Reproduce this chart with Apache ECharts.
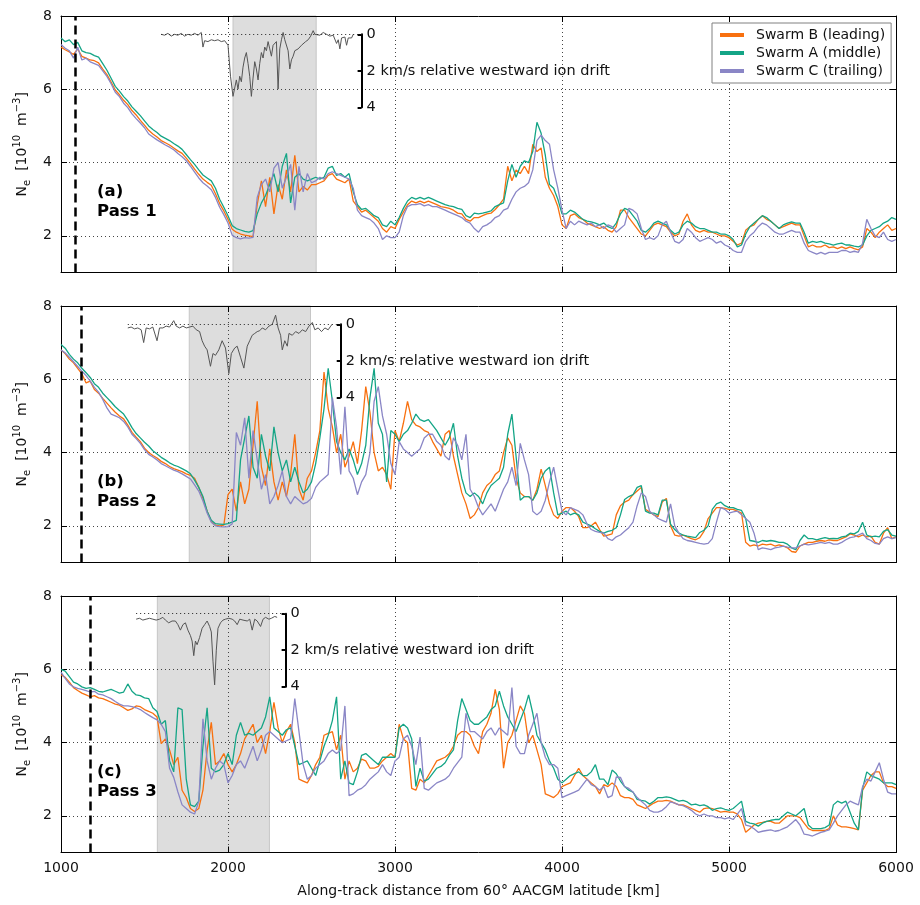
<!DOCTYPE html>
<html><head><meta charset="utf-8">
<script src="https://cdn.jsdelivr.net/npm/echarts@6/dist/echarts.min.js"></script>
<style>html,body{margin:0;padding:0;background:#fff}#chart{width:920px;height:905px}</style>
</head><body><div id="chart"></div><script>
// ---------- data ----------
const distanceKm = [
1000,1025,1050,1075,1100,1125,1150,1175,1200,1225,1250,1275,1300,1325,1350,1375,1400,1425,1450,1475,
1500,1525,1550,1575,1600,1625,1650,1675,1700,1725,1750,1775,1800,1825,1850,1875,1900,1925,1950,1975,
2000,2025,2050,2075,2100,2125,2150,2175,2200,2225,2250,2275,2300,2325,2350,2375,2400,2425,2450,2475,
2500,2525,2550,2575,2600,2625,2650,2675,2700,2725,2750,2775,2800,2825,2850,2875,2900,2925,2950,2975,
3000,3025,3050,3075,3100,3125,3150,3175,3200,3225,3250,3275,3300,3325,3350,3375,3400,3425,3450,3475,
3500,3525,3550,3575,3600,3625,3650,3675,3700,3725,3750,3775,3800,3825,3850,3875,3900,3925,3950,3975,
4000,4025,4050,4075,4100,4125,4150,4175,4200,4225,4250,4275,4300,4325,4350,4375,4400,4425,4450,4475,
4500,4525,4550,4575,4600,4625,4650,4675,4700,4725,4750,4775,4800,4825,4850,4875,4900,4925,4950,4975,
5000,5025,5050,5075,5100,5125,5150,5175,5200,5225,5250,5275,5300,5325,5350,5375,5400,5425,5450,5475,
5500,5525,5550,5575,5600,5625,5650,5675,5700,5725,5750,5775,5800,5825,5850,5875,5900,5925,5950,5975,
6000];

const pass1B = [
7.15,7.08,7.02,6.95,7.10,6.90,6.85,6.80,6.78,6.72, 6.55,6.40,6.20,5.98,5.85,5.70,5.58,5.42,5.30,5.15,
5.02,4.88,4.78,4.70,4.60,4.54,4.48,4.40,4.32,4.25, 4.12,3.98,3.82,3.68,3.55,3.46,3.38,3.15,2.88,2.68,
2.45,2.18,2.10,2.05,2.02,2.00,1.98,2.85,3.50,2.80, 3.60,2.60,3.40,3.00,3.80,3.20,4.20,3.20,3.35,3.25,
3.40,3.40,3.45,3.50,3.65,3.70,3.55,3.50,3.45,3.55, 2.95,2.80,2.65,2.70,2.60,2.50,2.40,2.20,2.10,2.25,
2.20,2.45,2.65,2.85,2.95,2.90,2.95,2.90,2.95,2.90, 2.85,2.80,2.78,2.75,2.70,2.62,2.60,2.45,2.40,2.50,
2.50,2.55,2.60,2.62,2.72,2.85,3.00,3.90,3.50,3.80, 3.70,3.90,3.70,4.50,4.30,4.40,3.60,3.30,3.10,2.80,
2.30,2.20,2.55,2.60,2.50,2.45,2.35,2.30,2.25,2.20, 2.25,2.15,2.10,2.25,2.70,2.70,2.50,2.35,2.20,2.05,
2.00,2.15,2.30,2.35,2.30,2.25,2.10,2.00,2.05,2.40, 2.60,2.30,2.15,2.10,2.15,2.10,2.10,2.05,2.00,2.00,
1.95,1.85,1.75,1.80,2.15,2.25,2.30,2.45,2.55,2.45, 2.40,2.30,2.20,2.25,2.30,2.35,2.30,2.30,2.00,1.70,
1.75,1.70,1.70,1.75,1.68,1.70,1.65,1.70,1.65,1.70, 1.65,1.62,1.70,2.20,2.10,1.95,2.10,2.20,2.30,2.15,
2.20];
const pass1A = [
7.40,7.30,7.35,7.22,7.28,7.05,7.00,6.98,6.92,6.88, 6.70,6.52,6.30,6.08,5.95,5.80,5.68,5.52,5.40,5.28,
5.14,5.00,4.90,4.82,4.72,4.66,4.60,4.52,4.45,4.36, 4.22,4.08,3.95,3.80,3.66,3.58,3.50,3.30,3.00,2.78,
2.55,2.28,2.20,2.16,2.12,2.10,2.14,2.60,2.90,3.10, 3.40,3.70,3.20,3.90,4.25,2.90,3.60,3.70,3.55,3.50,
3.55,3.60,3.55,3.60,3.85,3.90,3.65,3.70,3.60,3.70, 3.20,2.85,2.72,2.75,2.65,2.55,2.50,2.30,2.25,2.40,
2.30,2.50,2.75,2.95,3.05,3.00,3.05,3.00,3.05,3.00, 2.95,2.90,2.85,2.82,2.80,2.75,2.72,2.55,2.50,2.62,
2.60,2.62,2.65,2.68,2.80,2.85,2.90,3.50,3.95,3.60, 3.90,4.05,4.00,4.30,5.10,4.80,4.20,3.40,3.30,3.00,
2.60,2.60,2.70,2.65,2.55,2.45,2.40,2.38,2.35,2.30, 2.35,2.25,2.20,2.35,2.60,2.75,2.70,2.55,2.40,2.15,
2.10,2.20,2.35,2.40,2.35,2.30,2.15,2.05,2.10,2.30, 2.40,2.35,2.25,2.20,2.20,2.15,2.10,2.10,2.05,2.05,
2.00,1.90,1.70,1.75,2.05,2.25,2.35,2.45,2.55,2.50, 2.40,2.30,2.20,2.30,2.35,2.38,2.35,2.35,2.10,1.80,
1.85,1.82,1.85,1.80,1.78,1.75,1.78,1.80,1.75,1.75, 1.72,1.70,1.75,2.00,2.15,2.20,2.25,2.35,2.40,2.50,
2.45];
const pass1C = [
7.22,7.12,7.05,6.85,7.15,6.80,6.85,6.75,6.70,6.65, 6.50,6.35,6.15,5.92,5.80,5.62,5.50,5.33,5.20,5.08,
4.95,4.78,4.70,4.62,4.55,4.48,4.42,4.35,4.25,4.16, 4.05,3.90,3.74,3.58,3.45,3.36,3.26,3.05,2.78,2.58,
2.35,2.02,1.95,1.92,1.95,1.94,1.96,3.05,3.40,3.55, 3.20,3.85,4.00,3.30,3.60,3.95,2.70,3.90,3.20,3.70,
3.45,3.50,3.60,3.55,3.70,3.75,3.70,3.65,3.60,3.55, 3.30,2.70,2.55,2.50,2.45,2.35,2.20,1.90,2.00,1.95,
1.95,2.10,2.55,2.80,2.85,2.85,2.88,2.82,2.85,2.80, 2.80,2.75,2.70,2.65,2.60,2.55,2.50,2.40,2.35,2.20,
2.10,2.25,2.30,2.38,2.50,2.55,2.70,2.75,3.00,3.20, 3.30,3.35,3.45,3.80,4.60,4.75,4.60,4.50,3.80,3.30,
2.70,2.20,2.40,2.30,2.40,2.35,2.30,2.35,2.25,2.30, 2.20,2.30,2.25,2.10,2.20,2.30,2.75,2.70,2.60,2.20,
1.90,1.95,1.90,2.00,2.30,2.40,2.10,1.85,1.80,1.90, 2.20,2.10,1.95,1.85,1.90,1.95,1.90,1.80,1.85,1.75,
1.70,1.60,1.55,1.55,1.85,2.00,2.10,2.25,2.35,2.30, 2.20,2.10,2.05,2.05,2.10,2.15,2.10,2.10,1.80,1.60,
1.55,1.50,1.55,1.50,1.55,1.55,1.55,1.60,1.60,1.55, 1.58,1.55,1.80,2.45,2.20,2.00,1.95,2.10,1.90,1.85,
1.90];

const pass2B = [
6.80,6.70,6.55,6.45,6.30,6.15,5.90,5.95,5.72,5.62, 5.48,5.35,5.22,5.10,5.00,4.92,4.75,4.55,4.42,4.30,
4.12,4.00,3.92,3.85,3.76,3.70,3.62,3.56,3.52,3.48, 3.42,3.38,3.30,3.05,2.75,2.40,2.12,2.02,2.00,2.02,
2.85,3.00,2.40,3.20,2.60,3.00,4.20,5.40,3.60,3.10, 4.10,3.20,2.70,3.20,2.80,3.40,4.50,3.00,2.70,3.30,
3.50,4.00,4.60,6.20,5.20,4.70,4.00,4.50,3.60,3.90, 4.30,3.70,4.60,5.80,5.10,4.00,3.50,3.60,3.40,3.00,
4.60,4.30,4.80,5.40,4.90,4.75,4.70,4.60,4.55,4.30, 4.10,3.90,4.50,4.60,3.90,3.40,2.90,2.60,2.20,2.30,
2.50,2.90,3.10,3.20,3.40,3.50,4.00,4.40,4.20,3.30, 2.90,2.80,2.80,2.70,3.00,3.55,3.10,2.60,2.30,2.20,
2.40,2.50,2.50,2.40,2.25,1.95,1.95,2.00,2.10,1.90, 1.72,1.75,1.78,2.30,2.55,2.65,2.70,2.85,2.95,3.05,
2.45,2.38,2.30,2.25,2.65,2.75,2.00,1.75,1.72,1.75, 1.70,1.65,1.62,1.68,1.85,2.20,2.35,2.50,2.50,2.48,
2.45,2.45,2.40,2.35,1.55,1.45,1.48,1.45,1.50,1.48, 1.50,1.45,1.48,1.45,1.40,1.30,1.28,1.45,1.50,1.55,
1.55,1.58,1.60,1.58,1.62,1.60,1.60,1.65,1.70,1.78, 1.75,1.70,1.75,1.70,1.72,1.55,1.50,1.80,1.95,1.65,
1.70];
const pass2A = [
6.95,6.85,6.68,6.55,6.45,6.30,6.18,6.05,5.88,5.78, 5.62,5.50,5.38,5.25,5.15,5.05,4.88,4.68,4.52,4.40,
4.28,4.18,4.05,3.96,3.87,3.80,3.72,3.66,3.62,3.56, 3.50,3.42,3.25,3.05,2.80,2.40,2.15,2.06,2.05,2.04,
2.06,2.10,2.15,3.80,4.40,5.00,3.60,3.30,4.50,3.90, 3.50,4.70,4.00,3.50,3.80,3.20,3.60,3.20,2.90,3.00,
3.20,3.70,4.40,5.20,6.30,5.40,4.30,4.00,3.80,4.10, 3.80,3.40,3.70,4.20,5.50,6.30,4.80,4.50,3.20,4.60,
4.50,4.30,4.50,4.60,4.80,5.05,4.90,4.85,4.90,4.75, 4.60,4.40,4.20,4.40,4.80,3.90,3.30,2.90,2.80,2.90,
2.80,2.60,2.90,3.10,3.20,3.30,3.60,4.50,5.05,3.90, 2.70,2.80,2.80,2.70,2.90,3.30,3.50,3.60,2.90,2.30,
2.35,2.40,2.30,2.35,2.30,2.10,2.05,2.00,1.92,1.85, 1.80,1.85,1.88,1.95,2.30,2.72,2.80,2.85,3.05,3.10,
2.40,2.35,2.35,2.30,2.70,2.70,2.05,1.90,1.80,1.75, 1.72,1.70,1.68,1.82,1.88,2.00,2.45,2.60,2.65,2.55,
2.50,2.50,2.45,2.42,2.20,1.60,1.58,1.55,1.60,1.58, 1.60,1.58,1.55,1.55,1.50,1.40,1.35,1.60,1.75,1.65,
1.65,1.62,1.65,1.68,1.65,1.66,1.65,1.70,1.72,1.80, 1.78,1.85,2.10,1.75,1.70,1.72,1.70,1.85,1.90,1.75,
1.72];
const pass2C = [
6.80,6.72,6.60,6.48,6.35,6.22,6.10,5.95,5.78,5.65, 5.45,5.22,5.05,5.00,4.95,4.85,4.70,4.50,4.38,4.25,
4.08,3.95,3.88,3.80,3.70,3.64,3.58,3.52,3.48,3.42, 3.35,3.28,3.12,2.95,2.68,2.35,2.10,2.00,1.98,1.97,
1.98,2.05,4.55,4.20,4.95,3.30,4.60,3.80,3.00,3.40, 2.60,2.80,3.10,3.50,2.80,2.60,2.80,2.70,2.60,2.65,
2.75,3.05,3.20,3.30,3.40,5.50,4.70,3.40,5.25,3.50, 3.30,2.85,3.20,3.40,4.00,5.40,5.80,5.00,4.50,3.70,
3.40,4.30,4.10,4.00,3.90,4.00,4.10,4.40,4.50,4.50, 4.30,4.20,3.90,3.80,4.40,4.20,3.80,4.50,3.00,2.80,
2.50,2.30,2.45,2.60,2.40,2.70,3.00,3.20,3.60,3.10, 4.25,3.80,3.40,2.40,2.30,2.40,2.70,3.20,3.60,3.00,
2.40,2.30,2.50,2.45,2.40,2.30,2.05,1.90,1.85,1.82, 1.80,1.65,1.60,1.70,1.75,1.85,1.95,2.10,2.55,2.90,
2.80,2.40,2.30,2.20,2.15,2.10,2.60,2.00,1.80,1.65, 1.60,1.58,1.55,1.52,1.50,1.52,1.65,2.10,2.50,2.45,
2.35,2.38,2.40,2.30,2.20,2.10,1.80,1.35,1.40,1.38, 1.35,1.40,1.42,1.45,1.42,1.40,1.40,1.45,1.50,1.48,
1.50,1.52,1.55,1.52,1.55,1.50,1.50,1.55,1.62,1.68, 1.70,1.75,1.80,1.65,1.60,1.52,1.50,1.65,1.70,1.65,
1.68];

const pass3B = [
5.85,5.78,5.65,5.50,5.42,5.35,5.30,5.25,5.28,5.22, 5.20,5.15,5.10,5.05,5.02,4.95,4.88,4.92,5.00,4.98,
4.90,4.85,4.80,4.70,3.97,4.10,3.80,3.40,3.60,2.70, 2.50,2.20,2.12,2.20,2.70,3.80,4.55,3.40,3.50,3.70,
3.40,3.20,3.40,3.70,4.10,4.30,4.50,4.00,4.20,3.70, 4.30,5.10,4.40,4.00,4.30,4.50,4.00,3.00,2.95,2.90,
3.10,3.40,3.60,4.20,4.25,4.30,3.80,4.20,3.00,3.50, 3.20,3.30,3.55,3.50,3.30,3.30,3.35,3.50,3.60,3.70,
3.60,4.50,4.10,4.00,2.75,2.70,3.00,2.90,3.10,3.30, 3.50,3.55,3.60,3.70,3.90,4.20,4.30,4.30,4.20,3.90,
3.70,4.30,4.50,4.80,5.45,4.90,3.30,4.00,4.20,4.60, 5.00,4.80,4.00,4.20,3.80,3.40,2.60,2.55,2.50,2.60,
2.80,2.85,2.90,3.10,3.30,3.10,3.00,2.90,2.80,2.60, 2.85,2.80,2.90,2.80,2.55,2.50,2.50,2.45,2.30,2.25,
2.20,2.28,2.35,2.40,2.40,2.42,2.40,2.35,2.30,2.30, 2.25,2.20,2.15,2.10,2.20,2.22,2.20,2.15,2.10,2.12,
2.10,2.10,2.05,1.90,1.55,1.65,1.75,1.80,1.82,1.85, 1.85,1.80,1.80,1.90,2.00,2.00,2.00,1.95,1.80,1.65,
1.60,1.60,1.60,1.60,1.65,2.00,1.75,1.70,1.70,1.68, 1.65,1.62,2.70,2.90,3.10,3.20,3.20,2.90,2.80,2.80,
2.75];
const pass3A = [
6.00,5.95,5.80,5.65,5.60,5.52,5.48,5.50,5.45,5.40, 5.38,5.42,5.45,5.40,5.35,5.38,5.60,5.40,5.30,5.28,
5.22,5.20,4.95,4.85,4.50,4.60,3.50,3.20,4.95,4.90, 3.00,2.30,2.25,2.40,3.90,4.95,3.30,3.20,3.25,3.40,
3.70,3.40,4.20,4.55,4.20,4.25,4.20,4.30,4.40,4.70, 5.25,4.40,4.30,4.20,4.35,4.40,3.90,3.40,3.45,3.50,
3.30,3.10,3.50,3.90,4.20,4.60,5.25,3.00,3.50,2.90, 2.85,3.20,3.65,3.70,3.60,3.50,3.40,3.60,3.60,3.60,
3.60,4.40,4.50,4.40,4.10,2.80,3.30,2.95,3.00,3.15, 3.30,3.35,3.45,3.65,3.80,4.60,5.20,4.90,4.60,4.50,
4.50,4.60,4.70,4.90,5.00,5.40,5.00,4.70,4.50,4.30, 4.60,4.90,5.30,4.80,4.20,4.00,3.80,3.50,3.30,3.00,
2.90,3.00,3.10,3.15,3.20,3.10,3.10,3.20,3.40,3.00, 3.00,2.85,3.25,3.15,2.95,2.80,2.70,2.65,2.45,2.42,
2.40,2.32,2.40,2.50,2.50,2.52,2.50,2.45,2.40,2.42, 2.38,2.30,2.32,2.28,2.30,2.25,2.15,2.20,2.22,2.18,
2.15,2.20,2.30,2.40,1.85,1.80,1.78,1.72,1.80,1.85, 1.88,1.90,1.90,2.00,2.10,2.05,2.00,2.10,2.20,1.75,
1.65,1.65,1.65,1.68,1.75,2.30,2.40,2.35,2.40,2.10, 1.80,1.62,2.75,3.20,3.10,3.05,3.00,2.90,2.90,2.90,
2.85];
const pass3C = [
5.92,5.75,5.60,5.52,5.48,5.45,5.42,5.38,5.40,5.32, 5.30,5.25,5.20,5.12,5.05,5.00,5.00,4.98,4.95,4.90,
4.82,4.75,4.68,4.62,4.50,4.30,3.30,3.05,2.65,2.30, 2.20,2.10,2.05,2.40,4.65,3.50,3.00,3.30,3.50,3.40,
2.90,3.10,3.40,3.50,3.30,3.60,3.90,3.50,3.80,4.20, 4.30,4.20,4.10,4.00,4.05,4.10,5.20,4.30,3.40,3.00,
3.10,3.30,3.40,3.50,3.70,3.80,3.70,3.80,5.00,2.55, 2.60,2.70,2.75,2.85,3.00,3.10,3.20,3.40,3.20,3.10,
3.50,3.60,4.10,4.20,3.90,3.40,4.15,2.75,2.70,2.80, 2.90,2.95,3.00,3.10,3.30,3.45,3.60,4.80,4.30,4.30,
4.20,4.10,4.30,4.40,4.20,4.40,4.30,4.20,5.50,3.90, 3.70,3.70,4.20,4.50,4.80,4.00,3.60,3.40,3.40,3.30,
2.50,2.55,2.60,2.65,2.70,2.85,3.00,2.85,2.80,2.70, 2.80,2.50,2.55,3.06,3.05,2.80,2.75,2.65,2.50,2.40,
2.30,2.15,2.10,2.10,2.15,2.25,2.38,2.35,2.30,2.28, 2.22,2.15,2.05,2.00,2.05,2.00,2.00,1.95,1.95,1.92,
1.95,1.90,2.05,2.20,1.75,1.72,1.65,1.55,1.58,1.60, 1.62,1.58,1.60,1.65,1.70,1.80,1.90,1.75,1.50,1.48,
1.45,1.50,1.55,1.58,1.62,1.80,2.00,2.15,2.30,2.40, 2.35,2.30,2.80,3.00,2.95,3.20,3.45,3.00,2.65,2.60,
2.60];

// relative westward ion drift (km/s) insets
const drift1Km = [1600,1620,1640,1660,1680,1700,1720,1740,1760,1780,1800,1820,1840,1850,1860,1880,1900,1920,1940,1960,1980,2000,2015,2030,2040,2050,2060,2070,2080,2090,2100,2110,2120,2130,2140,2150,2160,2170,2180,2190,2200,2210,2220,2230,2240,2250,2260,2270,2280,2290,2300,2310,2320,2330,2340,2350,2360,2370,2380,2390,2400,2410,2420,2430,2440,2450,2465,2480,2495,2510,2520,2530,2550,2570,2590,2610,2630,2640,2650,2660,2670,2680,2690,2700,2710,2720,2730,2740,2750];
const drift1V  = [0.0,0.05,-0.05,0.1,0.0,0.05,-0.05,0.1,0.0,0.05,-0.05,0.05,-0.1,0.7,0.35,0.4,0.3,0.35,0.3,0.4,0.35,0.6,2.3,3.4,3.5,2.5,3.0,2.3,2.6,1.8,1.3,1.0,1.6,2.3,3.4,2.4,1.5,1.9,2.5,1.6,1.0,1.3,0.7,0.9,0.4,0.8,1.2,0.6,0.5,0.4,3.0,0.8,0.3,-0.1,0.3,0.2,0.9,1.9,1.4,1.2,0.9,1.0,0.8,0.7,0.6,0.5,0.4,0.3,0.1,-0.2,0.0,0.0,0.05,-0.1,0.0,0.1,0.05,0.1,0.5,0.3,0.8,0.2,0.3,0.15,0.6,0.2,0.1,0.2,0.0];
const drift2Km = [1400,1420,1440,1460,1480,1495,1510,1530,1550,1575,1590,1610,1630,1650,1675,1690,1710,1730,1750,1770,1790,1810,1830,1845,1860,1875,1895,1910,1925,1945,1965,1985,2005,2020,2040,2055,2075,2095,2115,2130,2145,2160,2175,2190,2205,2225,2245,2265,2285,2300,2315,2325,2340,2355,2365,2385,2405,2425,2445,2465,2485,2505,2520,2540,2560,2580,2600,2615,2624];
const drift2V  = [0.2,0.15,0.25,0.2,0.3,1.0,0.2,0.25,0.15,0.9,0.2,0.2,0.1,0.15,-0.2,0.1,0.2,0.1,0.2,0.15,0.1,0.3,0.4,0.9,1.2,1.4,2.3,1.6,1.7,1.4,0.9,1.3,2.7,1.6,1.3,1.2,1.8,2.4,1.2,0.9,0.6,0.5,0.4,0.35,0.2,0.3,0.1,0.0,-0.5,0.2,0.6,1.4,0.9,1.2,0.5,0.6,0.4,0.5,0.3,0.4,0.1,-0.1,0.3,0.2,0.4,0.2,0.3,0.1,0.0];
const drift3Km = [1450,1470,1490,1510,1530,1550,1570,1590,1610,1625,1645,1665,1685,1700,1715,1730,1745,1760,1775,1785,1795,1805,1815,1830,1845,1860,1875,1890,1900,1910,1920,1930,1940,1955,1970,1985,2005,2025,2040,2055,2070,2090,2115,2130,2145,2160,2175,2195,2210,2225,2245,2260,2280,2294];
const drift3V  = [0.3,0.25,0.35,0.3,0.25,0.3,0.35,0.3,0.2,0.35,0.5,0.4,0.4,0.6,0.9,0.6,0.5,0.9,1.2,1.5,2.3,1.5,1.7,1.3,0.8,0.6,0.4,0.7,1.0,2.6,3.9,2.0,0.8,0.5,0.35,0.3,0.25,0.3,0.4,0.6,0.3,0.35,0.4,0.3,0.9,0.3,0.4,0.7,0.3,0.2,0.3,0.25,0.15,0.2];

const seriesNames = ['Swarm B (leading)', 'Swarm A (middle)', 'Swarm C (trailing)'];
const panelLabels = ['(a)\nPass 1', '(b)\nPass 2', '(c)\nPass 3'];
const shadeStartKm = [2030, 1768, 1577];
const shadeEndKm = [2528, 2494, 2248];
const markerKm = [1086, 1120, 1178];
const scaleBarKm = [2800, 2675, 2345];
const yTickValues = [2, 4, 6, 8];
const driftTickValues = [0, 2, 4];

// ---------- layout & style ----------
const F = '"DejaVu Sans", Verdana, sans-serif';
const colors = ['#f8700f', '#14a586', '#8a86c6'];
const plotLeft = 61, plotRight = 896, panelTop = [16, 306, 596], panelH = 256.5;
const kmMin = 1000, kmMax = 6000;
const kmToPx = km => plotLeft + (km - kmMin) * (plotRight - plotLeft) / (kmMax - kmMin);
const insetTop = [34.3, 324.3, 613.7], insetH = 73;
const FS = 14;

const passData = [[pass1B, pass1A, pass1C], [pass2B, pass2A, pass2C], [pass3B, pass3A, pass3C]];
const driftData = [[drift1Km, drift1V], [drift2Km, drift2V], [drift3Km, drift3V]];

const grid = [], xAxis = [], yAxis = [], series = [];
const blackLine = { color: '#000', width: 1 };
const dotted = { color: '#444', width: 1, type: [1, 3] };

for (let i = 0; i < 3; i++) {
  grid.push({ left: plotLeft, width: plotRight - plotLeft, top: panelTop[i], height: panelH });
}
for (let i = 0; i < 3; i++) {
  const s = driftData[i][0][0];
  grid.push({ left: kmToPx(s), width: kmToPx(scaleBarKm[i]) - kmToPx(s), top: insetTop[i], height: insetH });
}

for (let i = 0; i < 3; i++) {
  xAxis.push({
    type: 'value', gridIndex: i, min: kmMin, max: kmMax, interval: 1000, position: 'bottom', z: 2,
    axisLine: { onZero: false, lineStyle: blackLine },
    axisTick: { inside: true, length: 6, lineStyle: blackLine },
    axisLabel: { show: i === 2, margin: 9, fontSize: FS, color: '#111', fontFamily: F, formatter: v => String(v) },
    splitLine: { show: true, lineStyle: dotted },
    name: i === 2 ? 'Along-track distance from 60° AACGM latitude [km]' : '',
    nameLocation: 'middle', nameGap: 32,
    nameTextStyle: { fontSize: FS, color: '#111', fontFamily: F }
  });
  xAxis.push({
    type: 'value', gridIndex: i, min: kmMin, max: kmMax, interval: 1000, position: 'top', z: 2,
    axisLine: { onZero: false, lineStyle: blackLine },
    axisTick: { inside: true, length: 6, lineStyle: blackLine },
    axisLabel: { show: false }, splitLine: { show: false }
  });
  yAxis.push({
    type: 'value', gridIndex: i, min: 1, max: 8, position: 'left', z: 2,
    axisLine: { onZero: false, lineStyle: blackLine },
    axisTick: { inside: true, length: 6, lineStyle: blackLine, customValues: yTickValues },
    axisLabel: { margin: 9, fontSize: FS, color: '#111', fontFamily: F, customValues: yTickValues },
    splitLine: { show: true, lineStyle: dotted },
    name: 'N{sub|e}  [10{sup|10}  m{sup|−3}]',
    nameLocation: 'middle', nameGap: 29, nameRotate: 90,
    nameTextStyle: {
      fontSize: FS, color: '#111', fontFamily: F, lineHeight: 20,
      rich: {
        sub: { fontSize: 10, lineHeight: 10, verticalAlign: 'bottom', color: '#111', fontFamily: F },
        sup: { fontSize: 10, lineHeight: 10, verticalAlign: 'top', color: '#111', fontFamily: F }
      }
    }
  });
  yAxis.push({
    type: 'value', gridIndex: i, min: 1, max: 8, position: 'right', z: 2,
    axisLine: { onZero: false, lineStyle: blackLine },
    axisTick: { inside: true, length: 6, lineStyle: blackLine, customValues: yTickValues },
    axisLabel: { show: false }, splitLine: { show: false }
  });
}
for (let i = 0; i < 3; i++) {
  xAxis.push({ type: 'value', gridIndex: 3 + i, min: driftData[i][0][0], max: scaleBarKm[i], show: false });
  yAxis.push({
    type: 'value', gridIndex: 3 + i, min: 0, max: 4, inverse: true, position: 'right', z: 4,
    axisLine: { show: true, onZero: false, lineStyle: { color: '#000', width: 2 } },
    axisTick: { show: true, inside: true, length: 4, lineStyle: { color: '#000', width: 2 }, customValues: driftTickValues },
    axisLabel: {
      margin: 5, fontSize: 14.5, color: '#111', fontFamily: F, customValues: driftTickValues,
      formatter: v => (v === 2 ? '2 km/s relative westward ion drift' : String(v))
    },
    splitLine: { show: false }
  });
}

for (let i = 0; i < 3; i++) {
  series.push({
    type: 'line', name: 'shade' + i, xAxisIndex: 2 * i, yAxisIndex: 2 * i, data: [], z: 1, silent: true,
    markArea: {
      silent: true,
      itemStyle: { color: '#dddddd', borderColor: '#c6c6c6', borderWidth: 1 },
      data: [[{ xAxis: shadeStartKm[i] }, { xAxis: shadeEndKm[i] }]]
    }
  });
  for (let k = 0; k < 3; k++) {
    const vals = passData[i][k];
    series.push({
      type: 'line', name: seriesNames[k], xAxisIndex: 2 * i, yAxisIndex: 2 * i, z: 3, silent: true,
      symbol: 'none', showSymbol: false,
      lineStyle: { width: 1.3, color: colors[k] }, itemStyle: { color: colors[k] },
      data: distanceKm.map((x, j) => [x, vals[j]])
    });
  }
  series.push({
    type: 'line', name: 'marker' + i, xAxisIndex: 2 * i, yAxisIndex: 2 * i, data: [], z: 5, silent: true,
    markLine: {
      silent: true, symbol: ['none', 'none'], label: { show: false },
      lineStyle: { color: '#000', width: 2.5, type: [9, 5] },
      data: [{ xAxis: markerKm[i] }]
    }
  });
  const dk = driftData[i][0], dv = driftData[i][1];
  series.push({
    type: 'line', name: 'drift' + i, xAxisIndex: 6 + i, yAxisIndex: 6 + i, z: 4, silent: true, clip: false,
    symbol: 'none', showSymbol: false,
    lineStyle: { width: 1, color: '#555' },
    data: dk.map((x, j) => [x, dv[j]]),
    markLine: {
      silent: true, symbol: ['none', 'none'], label: { show: false },
      lineStyle: { color: '#222', width: 1, type: [1, 3] },
      data: [{ yAxis: 0 }]
    }
  });
}

const chart = echarts.init(document.getElementById('chart'), null, { renderer: 'canvas' });
chart.setOption({
  animation: false,
  backgroundColor: '#fff',
  textStyle: { fontFamily: F },
  grid, xAxis, yAxis, series,
  legend: {
    data: seriesNames, orient: 'vertical', left: 712, top: 23, z: 10,
    icon: 'rect', itemWidth: 24, itemHeight: 4, itemGap: 4,
    padding: [5, 6, 5, 8],
    backgroundColor: '#fff', borderColor: '#808080', borderWidth: 1,
    textStyle: { fontSize: 14, color: '#111', fontFamily: F, padding: [0, 0, 0, 7] },
    selectedMode: false
  },
  graphic: panelLabels.map((t, i) => ({
    type: 'text', left: 97, top: panelTop[i] + 166, z: 10, silent: true,
    style: { text: t, fontSize: 16.5, fontWeight: 'bold', fontFamily: F, fill: '#000', lineHeight: 20 }
  }))
});
</script></body></html>
